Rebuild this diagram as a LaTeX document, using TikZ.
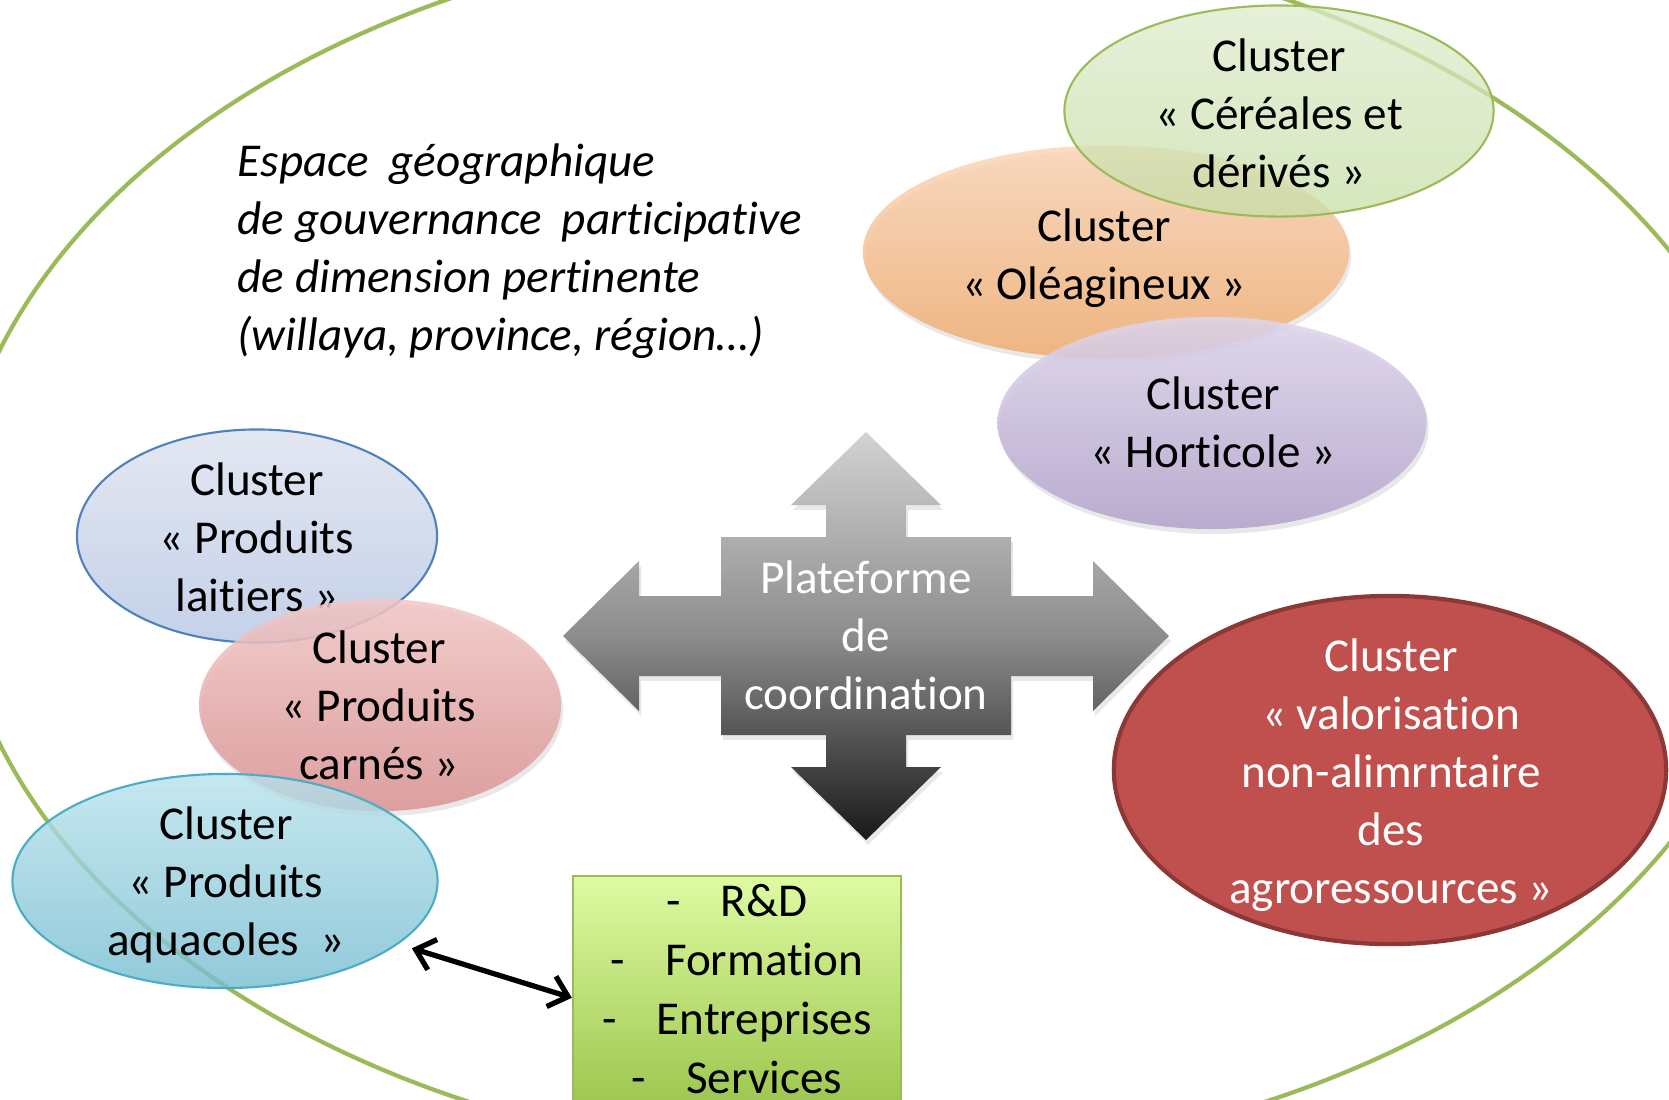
\documentclass[tikz,border=0pt]{standalone}
\usepackage{fontspec}
\setmainfont{Carlito}[Ligatures=NoCommon]
\usetikzlibrary{shapes.geometric,arrows.meta,shadows}
\definecolor{ringgreen}{RGB}{155,187,89}
\definecolor{laitA}{RGB}{222,227,239}
\definecolor{laitB}{RGB}{186,201,229}
\definecolor{laitL}{RGB}{79,129,189}
\definecolor{carnA}{RGB}{243,200,199}
\definecolor{carnB}{RGB}{218,146,145}
\definecolor{aquaA}{RGB}{183,226,236}
\definecolor{aquaB}{RGB}{118,188,208}
\definecolor{aquaL}{RGB}{75,172,198}
\definecolor{oleA}{RGB}{251,214,184}
\definecolor{oleB}{RGB}{240,172,112}
\definecolor{cerA}{RGB}{222,234,203}
\definecolor{cerB}{RGB}{199,223,167}
\definecolor{hortA}{RGB}{223,214,237}
\definecolor{hortB}{RGB}{178,162,203}
\definecolor{valF}{RGB}{192,80,77}
\definecolor{valL}{RGB}{140,56,54}
\definecolor{boxA}{RGB}{222,251,162}
\definecolor{boxB}{RGB}{158,199,80}

\begin{document}
\begin{tikzpicture}[x=0.01cm,y=-0.01cm,
  cluster/.style={ellipse,inner sep=0pt,fill opacity=0.85},
  soft/.style={drop shadow={opacity=0.18,shadow xshift=0.6pt,shadow yshift=-1.4pt}},
  ctext/.style={align=center,inner sep=0pt,font=\fontsize{13.4pt}{16.5pt}\selectfont},
  link/.style={line width=1.5pt,{Straight Barb[length=5pt,width=9pt]}-{Straight Barb[length=5pt,width=9pt]}}]
\useasboundingbox (0,0) rectangle (1669,1099);
\clip (0,0) rectangle (1669,1099);
\draw[ringgreen,line width=1.2pt] (867,547) ellipse [x radius=915,y radius=616];

\node[ctext,anchor=north west,align=left,font=\fontsize{13.4pt}{16.5pt}\selectfont\itshape] (espace) at (237,143)
  {Espace\hspace{0.2em} géographique\\de gouvernance\hspace{0.2em} participative\\de dimension pertinente\\(willaya, province, région…)};

\node[cluster,draw=laitL,line width=0.6pt,top color=laitA,bottom color=laitB,minimum width=3.6cm,minimum height=2.13cm] (lait) at (257,536) {};
\node[ctext] (laitT) at (257,537) {Cluster\\« Produits\\laitiers »};
\node[cluster,soft,top color=carnA,bottom color=carnB,minimum width=3.62cm,minimum height=2.12cm] (carn) at (380,705) {};
\node[ctext] (carnT) at (379,705) {Cluster\\« Produits\\carnés »};
\node[cluster,draw=aquaL,line width=0.6pt,fill opacity=0.8,top color=aquaA,bottom color=aquaB,minimum width=4.25cm,minimum height=2.14cm] (aqua) at (225,881) {};
\node[ctext] (aquaT) at (226,885) {Cluster\\« Produits\\aquacoles\ \ »};

\node[cluster,soft,top color=oleA,bottom color=oleB,minimum width=4.86cm,minimum height=2.13cm] (ole) at (1106,252) {};
\node[ctext] (oleT) at (1104,258) {Cluster\\« Oléagineux »};
\node[cluster,draw=ringgreen,line width=0.6pt,fill opacity=0.75,top color=cerA,bottom color=cerB,minimum width=4.29cm,minimum height=2.11cm] (cer) at (1279,111) {};
\node[ctext] (cerT) at (1279,113) {Cluster\\« Céréales et\\dérivés »};
\node[cluster,soft,top color=hortA,bottom color=hortB,minimum width=4.29cm,minimum height=2.12cm] (hort) at (1212,423) {};
\node[ctext] (hortT) at (1213,422) {Cluster\\« Horticole »};

\node[cluster,fill opacity=1,draw=valL,line width=1.2pt,fill=valF,minimum width=5.52cm,minimum height=3.48cm] (val) at (1390,770) {};
\node[ctext,text=white] (valT) at (1391,775) {Cluster\\« valorisation\\non-alimrntaire\\des\\agroressources »};

\begin{scope}[shift={(866,636)}]
\shade[soft,top color=gray!35,bottom color=black!90,middle color=black!45]
  (0,-204) -- (75,-131) -- (40,-131) -- (40,-99) -- (145,-99) -- (145,-40) -- (227,-40) -- (227,-75)
  -- (303,0) -- (227,75) -- (227,40) -- (145,40) -- (145,99) -- (40,99) -- (40,131) -- (75,131)
  -- (0,204) -- (-75,131) -- (-40,131) -- (-40,99) -- (-145,99) -- (-145,40) -- (-227,40) -- (-227,75)
  -- (-303,0) -- (-227,-75) -- (-227,-40) -- (-145,-40) -- (-145,-99) -- (-40,-99) -- (-40,-131) -- (-75,-131) -- cycle;
\end{scope}
\node[ctext,text=white] (hubT) at (866,635) {Plateforme\\de\\coordination};

\node[draw=ringgreen,line width=0.6pt,top color=boxA,bottom color=boxB,minimum width=3.28cm,minimum height=2.26cm,
  anchor=north,align=center,inner sep=0pt,font=\fontsize{13.4pt}{16.8pt}\selectfont] (box) at (737,875)
  {-\hspace{0.85em}R\&D\\-\hspace{0.85em}Formation\\-\hspace{0.85em}Entreprises\\-\hspace{0.85em}Services};
\draw[link,shorten <=4pt] (aqua.-20) -- (box.183);
\end{tikzpicture}
\end{document}
